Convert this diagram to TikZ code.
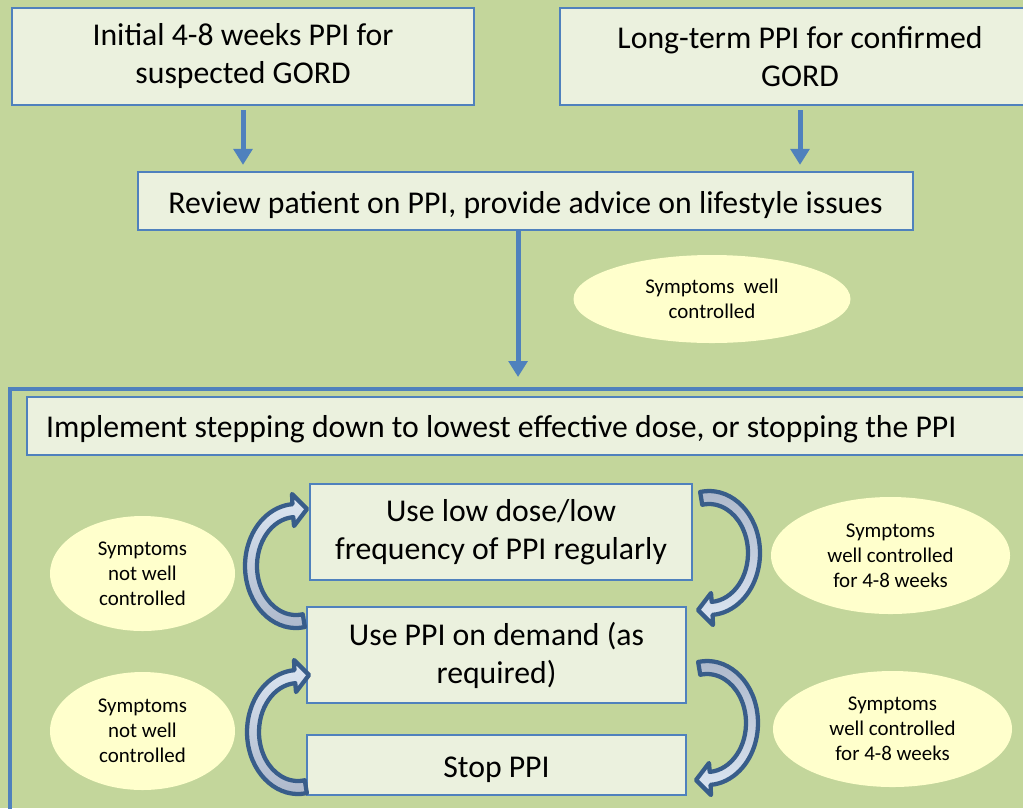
\documentclass[tikz,border=0pt]{standalone}
\usepackage{fontspec}
\setmainfont{Carlito}
\usetikzlibrary{shapes.geometric,arrows.meta}

\definecolor{bggreen}{HTML}{C3D69B}
\definecolor{boxfill}{HTML}{EBF1DE}
\definecolor{boxblue}{HTML}{4F81BD}
\definecolor{bubblefill}{HTML}{FFFFCC}
\definecolor{bentdark}{HTML}{385D8A}
\definecolor{bentlight}{HTML}{DCE6F2}
\definecolor{bentgray}{HTML}{ACB7CA}

\newcommand{\boxfont}{\fontsize{23.8pt}{28.5pt}\selectfont}
\newcommand{\bubblefont}{\fontsize{15.7pt}{18.75pt}\selectfont}
% bent block arrow: centre, rotation, top colour, bottom colour
\newcommand{\bentarrow}[4]{%
  \shadedraw[bent, shift={(#1)}, rotate=#2, top color=#3, bottom color=#4]
    (80:51 and 62) arc[start angle=80, end angle=266, x radius=51, y radius=62]
    -- (-4,-72) -- (11,-57) -- (-2,-40) -- (266:39 and 49)
    arc[start angle=266, end angle=80, x radius=39, y radius=49] -- cycle;}

\begin{document}
\begin{tikzpicture}[x=0.75pt, y=-0.75pt,
    box/.style={draw=boxblue, line width=1.7pt, fill=boxfill, align=center,
                font=\boxfont, inner sep=0pt,
                execute at begin node={\rule{0pt}{22pt}}},
    twoline/.style={execute at begin node={\rule{0pt}{28pt}}},
    bubble/.style={ellipse, fill=bubblefill, align=center, font=\bubblefont,
                   inner sep=0pt},
    flow/.style={draw=boxblue, line width=3.75pt,
                 -{Triangle[width=14pt,length=12pt]}},
    bent/.style={draw=bentdark, line width=3.2pt, line join=round}]

  \useasboundingbox (0,0) rectangle (1023,808);
  \clip (0,0) rectangle (1023,808);
  \fill[bggreen] (0,0) rectangle (1023,808);

  % top row
  \node[box, twoline, minimum width=346.5pt, minimum height=72.75pt] (initial)
    at (243,56.5) {Initial 4-8 weeks PPI for\\suspected GORD};
  \node[box, twoline, minimum width=360pt, minimum height=72.75pt] (longterm)
    at (800,56.5) {Long-term PPI for confirmed\\GORD};
  \node[box, minimum width=581.25pt, minimum height=43.5pt] (review)
    at (525.5,201) {Review patient on PPI, provide advice on lifestyle issues};
  \node[bubble, minimum width=207.75pt, minimum height=66pt] (wellctrl)
    at (712,299) {Symptoms~ well\\controlled};

  % stepping down frame
  \node[draw=boxblue, line width=3pt, minimum width=776.25pt,
        minimum height=330.75pt, inner sep=0pt] (frame) at (527.5,609.5) {};
  \node[box, anchor=west, align=flush left, text width=735.75pt,
        inner xsep=14.25pt, minimum height=43.5pt] (implement) at (26,426)
    {Implement stepping down to lowest effective dose, or stopping the PPI};

  \node[box, twoline, minimum width=286.5pt, minimum height=72pt] (lowdose)
    at (501,532) {Use low dose/low\\frequency of PPI regularly};
  \node[box, twoline, minimum width=284.25pt, minimum height=72pt] (ondemand)
    at (496.5,655) {Use PPI on demand (as\\required)};
  \node[box, minimum width=284.25pt, minimum height=45pt] (stop)
    at (496.5,765) {Stop PPI};

  \node[bubble, minimum width=138.75pt, minimum height=86.25pt] (notwellA)
    at (142.5,573.5) {Symptoms\\not well\\controlled};
  \node[bubble, minimum width=138.75pt, minimum height=88.5pt] (notwellB)
    at (142.5,731) {Symptoms\\not well\\controlled};
  \node[bubble, minimum width=179.25pt, minimum height=87.75pt] (wellA)
    at (890.5,555.5) {Symptoms\\well controlled\\for 4-8 weeks};
  \node[bubble, minimum width=179.25pt, minimum height=87pt] (wellB)
    at (892.5,729) {Symptoms\\well controlled\\for 4-8 weeks};

  % arrows
  \draw[flow, shorten <=3pt, shorten >=4.5pt] (initial.south)
    -- (initial.south |- review.north);
  \draw[flow, shorten <=3pt, shorten >=4.5pt] (longterm.south)
    -- (longterm.south |- review.north);
  \draw[flow, shorten >=7.5pt] ([xshift=-5.6pt]review.south)
    -- ([xshift=-5.6pt]review.south |- frame.north);

  \bentarrow{296,566}{0}{bentlight}{bentgray}
  \bentarrow{709,553}{180}{bentgray}{bentlight}
  \bentarrow{298,732}{0}{bentlight}{bentgray}
  \bentarrow{707,723}{180}{bentgray}{bentlight}
\end{tikzpicture}
\end{document}
